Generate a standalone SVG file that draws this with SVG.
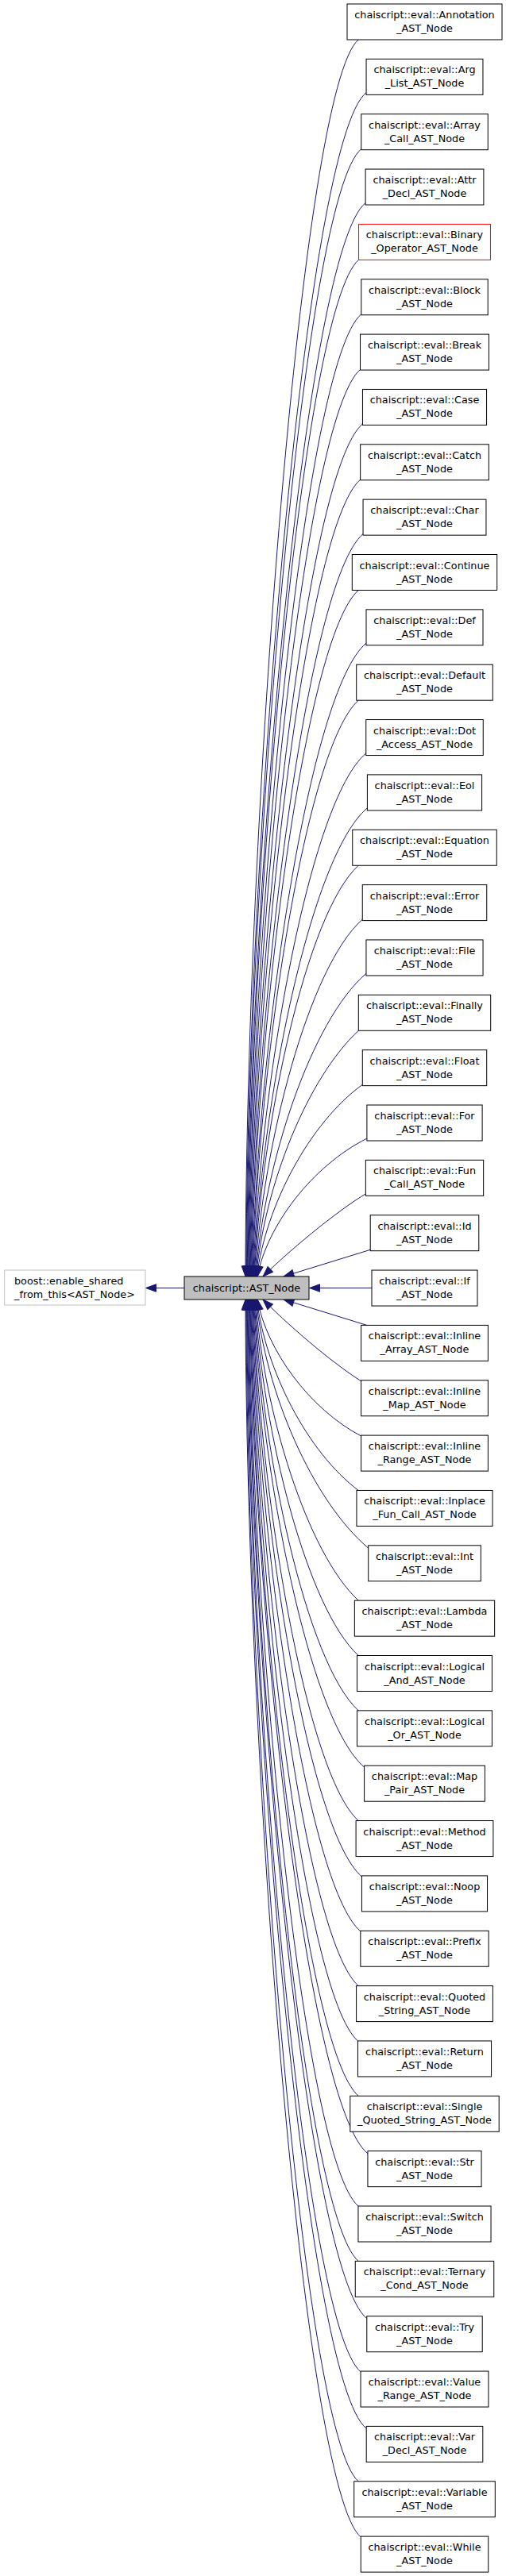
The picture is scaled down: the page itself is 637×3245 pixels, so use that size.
<svg xmlns="http://www.w3.org/2000/svg" width="637" height="3245" viewBox="0 0 637 3245">
<style>
.n rect{fill:#fff;stroke:#000;stroke-width:1}
.n text{font-family:"DejaVu Sans",sans-serif;font-size:12.8px;text-anchor:middle;fill:#000}
#edges path{fill:none;stroke:#191970;stroke-width:1;marker-end:url(#ah)}
</style>
<defs>
<marker id="ah" markerUnits="userSpaceOnUse" markerWidth="16" markerHeight="12" viewBox="-1 -1 16 12" refX="13" refY="5" orient="auto"><path d="M0,0.3 L13,5 L0,9.7 z" fill="#191970" stroke="#191970" stroke-width="1"/></marker>
</defs>
<rect width="637" height="3245" fill="#fff"/>
<g id="edges">
<path d="M232,1622.5 L183.5,1622.5"/>
<path d="M468,1622.5 L389.5,1622.5"/>
<path d="M451.2,50 C380.1,110 309.8,1031.5 309,1608"/>
<path d="M461.05,116.7 C385.4,176.7 311.2,1056.2 309.75,1608"/>
<path d="M454.75,187.7 C382.6,247.7 312.5,1082.5 310.5,1608"/>
<path d="M460.1,255.6 C385.7,315.6 313.9,1107.6 311.25,1608"/>
<path d="M451.55,327.3 C381.8,387.3 315.1,1134.1 312,1608"/>
<path d="M454.8,395.8 C383.8,455.8 316.5,1159.5 312.75,1608"/>
<path d="M453.55,465.5 C383.5,525.5 317.8,1185.3 313.5,1608"/>
<path d="M456.45,534 C385.35,594 319.2,1210.6 314.25,1608"/>
<path d="M453.65,604.1 C384.3,664.1 320.4,1236.6 315,1608"/>
<path d="M457.05,672.6 C386.4,732.6 321.9,1261.9 315.75,1608"/>
<path d="M451.2,743.5 C383.85,803.5 322.9,1288.1 316.5,1608"/>
<path d="M461,810.2 C389.1,870.2 324.7,1312.8 317.25,1608"/>
<path d="M451.2,882.2 C384.6,942.2 325.5,1339.5 318,1608"/>
<path d="M460.75,949 C389.75,1009 327.3,1364.2 318.75,1608"/>
<path d="M462.4,1017.9 C390.95,1077.9 328.7,1389.7 319.5,1608"/>
<path d="M451.2,1090.25 C385.7,1150.25 329.2,1416.4 320.25,1608"/>
<path d="M456.25,1158.2 C388.6,1218.2 330.8,1441.6 321,1608"/>
<path d="M460.95,1226.3 C391.35,1286.3 332.5,1466.8 321.75,1608"/>
<path d="M451.3,1298.3 C386.9,1358.3 333,1493.4 322.5,1608"/>
<path d="M456.3,1366.3 C389.8,1414.6 334.6,1518.6 323.25,1608"/>
<path d="M461.9,1434.1 C392.95,1468.9 336.3,1543.7 324,1608"/>
<path d="M460.35,1503.9 C430.6,1521.6 375,1565.3 331,1608"/>
<path d="M466.2,1574.3 L357,1608"/>
<path d="M461.7,1669.4 L357,1637"/>
<path d="M454.6,1739.7 C426.2,1722.2 373,1679.1 331,1637"/>
<path d="M454.6,1809 C389.3,1774.6 335.7,1700.6 324,1637"/>
<path d="M451.2,1877.45 C387.2,1829.4 334.2,1726 323.25,1637"/>
<path d="M463.7,1950.2 C393.1,1890.2 333.9,1752.9 322.5,1637"/>
<path d="M451.2,2016.15 C386.5,1956.15 331.7,1777.3 321.75,1637"/>
<path d="M451.2,2085.5 C386.1,2025.5 330.5,1802.9 321,1637"/>
<path d="M451.2,2154.85 C385.7,2094.85 329.2,1828.6 320.25,1637"/>
<path d="M458.6,2226.2 C389.05,2166.2 328.4,1855 319.5,1637"/>
<path d="M451.2,2293.55 C385,2233.55 326.7,1879.9 318.75,1637"/>
<path d="M455.45,2364.1 C386.7,2304.1 325.7,1906 318,1637"/>
<path d="M453.85,2433 C385.55,2373 324.3,1931.5 317.25,1637"/>
<path d="M451.2,2501.6 C383.85,2441.6 322.9,1956.9 316.5,1637"/>
<path d="M450.45,2570.95 C383.1,2510.95 321.6,1982.6 315.75,1637"/>
<path d="M451.2,2640.3 C383.1,2580.3 320.3,2008.2 315,1637"/>
<path d="M462.95,2712.8 C388.6,2652.8 319.4,2035 314.25,1637"/>
<path d="M450.95,2779 C382.2,2719 317.7,2059.5 313.5,1637"/>
<path d="M451.2,2848.35 C382,2788.35 316.4,2085.2 312.75,1637"/>
<path d="M461.8,2920.6 C386.9,2860.6 315.3,2111.9 312,1637"/>
<path d="M454.05,2987.8 C382.65,2927.8 313.8,2136.8 311.25,1637"/>
<path d="M461.2,3059.1 C385.85,2999.1 312.6,2163.2 310.5,1637"/>
<path d="M451.2,3125.75 C380.5,3065.75 311.1,2187.8 309.75,1637"/>
<path d="M454.25,3195.9 C381.6,3135.9 309.8,2213.8 309,1637"/>
</g>
<g id="enable_shared" class="n"><rect x="5.7" y="1600" width="177.3" height="44" style="stroke:#bfbfbf"/><text x="18" y="1617.5" style="text-anchor:start">boost::enable_shared<tspan x="18" dy="17">_from_this&lt;AST_Node&gt;</tspan></text></g>
<g id="AST_Node" class="n"><rect x="232" y="1608" width="157" height="29" style="fill:#bfbfbf"/><text x="310.5" y="1627">chaiscript::AST_Node</text></g>
<g id="n0" class="n"><rect x="437" y="5" width="195" height="45"/><text x="534.5" y="23">chaiscript::eval::Annotation<tspan x="534.5" dy="17">_AST_Node</tspan></text></g>
<g id="n1" class="n"><rect x="461.05" y="74.35" width="146.9" height="45"/><text x="534.5" y="92.35">chaiscript::eval::Arg<tspan x="534.5" dy="17">_List_AST_Node</tspan></text></g>
<g id="n2" class="n"><rect x="454.75" y="143.7" width="159.5" height="45"/><text x="534.5" y="161.7">chaiscript::eval::Array<tspan x="534.5" dy="17">_Call_AST_Node</tspan></text></g>
<g id="n3" class="n"><rect x="460.1" y="213.05" width="148.8" height="45"/><text x="534.5" y="231.05">chaiscript::eval::Attr<tspan x="534.5" dy="17">_Decl_AST_Node</tspan></text></g>
<g id="n4" class="n"><rect x="451.55" y="282.4" width="165.9" height="45" style="stroke:#ff0000"/><text x="534.5" y="300.4">chaiscript::eval::Binary<tspan x="534.5" dy="17">_Operator_AST_Node</tspan></text></g>
<g id="n5" class="n"><rect x="454.8" y="351.75" width="159.4" height="45"/><text x="534.5" y="369.75">chaiscript::eval::Block<tspan x="534.5" dy="17">_AST_Node</tspan></text></g>
<g id="n6" class="n"><rect x="453.55" y="421.1" width="161.9" height="45"/><text x="534.5" y="439.1">chaiscript::eval::Break<tspan x="534.5" dy="17">_AST_Node</tspan></text></g>
<g id="n7" class="n"><rect x="456.45" y="490.45" width="156.1" height="45"/><text x="534.5" y="508.45">chaiscript::eval::Case<tspan x="534.5" dy="17">_AST_Node</tspan></text></g>
<g id="n8" class="n"><rect x="453.65" y="559.8" width="161.7" height="45"/><text x="534.5" y="577.8">chaiscript::eval::Catch<tspan x="534.5" dy="17">_AST_Node</tspan></text></g>
<g id="n9" class="n"><rect x="457.05" y="629.15" width="154.9" height="45"/><text x="534.5" y="647.15">chaiscript::eval::Char<tspan x="534.5" dy="17">_AST_Node</tspan></text></g>
<g id="n10" class="n"><rect x="443.3" y="698.5" width="182.4" height="45"/><text x="534.5" y="716.5">chaiscript::eval::Continue<tspan x="534.5" dy="17">_AST_Node</tspan></text></g>
<g id="n11" class="n"><rect x="461" y="767.85" width="147" height="45"/><text x="534.5" y="785.85">chaiscript::eval::Def<tspan x="534.5" dy="17">_AST_Node</tspan></text></g>
<g id="n12" class="n"><rect x="448.7" y="837.2" width="171.6" height="45"/><text x="534.5" y="855.2">chaiscript::eval::Default<tspan x="534.5" dy="17">_AST_Node</tspan></text></g>
<g id="n13" class="n"><rect x="460.75" y="906.55" width="147.5" height="45"/><text x="534.5" y="924.55">chaiscript::eval::Dot<tspan x="534.5" dy="17">_Access_AST_Node</tspan></text></g>
<g id="n14" class="n"><rect x="462.4" y="975.9" width="144.2" height="45"/><text x="534.5" y="993.9">chaiscript::eval::Eol<tspan x="534.5" dy="17">_AST_Node</tspan></text></g>
<g id="n15" class="n"><rect x="443.75" y="1045.25" width="181.5" height="45"/><text x="534.5" y="1063.25">chaiscript::eval::Equation<tspan x="534.5" dy="17">_AST_Node</tspan></text></g>
<g id="n16" class="n"><rect x="456.25" y="1114.6" width="156.5" height="45"/><text x="534.5" y="1132.6">chaiscript::eval::Error<tspan x="534.5" dy="17">_AST_Node</tspan></text></g>
<g id="n17" class="n"><rect x="460.95" y="1183.95" width="147.1" height="45"/><text x="534.5" y="1201.95">chaiscript::eval::File<tspan x="534.5" dy="17">_AST_Node</tspan></text></g>
<g id="n18" class="n"><rect x="451.3" y="1253.3" width="166.4" height="45"/><text x="534.5" y="1271.3">chaiscript::eval::Finally<tspan x="534.5" dy="17">_AST_Node</tspan></text></g>
<g id="n19" class="n"><rect x="456.3" y="1322.65" width="156.4" height="45"/><text x="534.5" y="1340.65">chaiscript::eval::Float<tspan x="534.5" dy="17">_AST_Node</tspan></text></g>
<g id="n20" class="n"><rect x="461.9" y="1392" width="145.2" height="45"/><text x="534.5" y="1410">chaiscript::eval::For<tspan x="534.5" dy="17">_AST_Node</tspan></text></g>
<g id="n21" class="n"><rect x="460.35" y="1461.35" width="148.3" height="45"/><text x="534.5" y="1479.35">chaiscript::eval::Fun<tspan x="534.5" dy="17">_Call_AST_Node</tspan></text></g>
<g id="n22" class="n"><rect x="466.2" y="1530.7" width="136.6" height="45"/><text x="534.5" y="1548.7">chaiscript::eval::Id<tspan x="534.5" dy="17">_AST_Node</tspan></text></g>
<g id="n23" class="n"><rect x="468" y="1600.05" width="133" height="45"/><text x="534.5" y="1618.05">chaiscript::eval::If<tspan x="534.5" dy="17">_AST_Node</tspan></text></g>
<g id="n24" class="n"><rect x="454.6" y="1669.4" width="159.8" height="45"/><text x="534.5" y="1687.4">chaiscript::eval::Inline<tspan x="534.5" dy="17">_Array_AST_Node</tspan></text></g>
<g id="n25" class="n"><rect x="454.6" y="1738.75" width="159.8" height="45"/><text x="534.5" y="1756.75">chaiscript::eval::Inline<tspan x="534.5" dy="17">_Map_AST_Node</tspan></text></g>
<g id="n26" class="n"><rect x="454.6" y="1808.1" width="159.8" height="45"/><text x="534.5" y="1826.1">chaiscript::eval::Inline<tspan x="534.5" dy="17">_Range_AST_Node</tspan></text></g>
<g id="n27" class="n"><rect x="448.95" y="1877.45" width="171.1" height="45"/><text x="534.5" y="1895.45">chaiscript::eval::Inplace<tspan x="534.5" dy="17">_Fun_Call_AST_Node</tspan></text></g>
<g id="n28" class="n"><rect x="463.7" y="1946.8" width="141.6" height="45"/><text x="534.5" y="1964.8">chaiscript::eval::Int<tspan x="534.5" dy="17">_AST_Node</tspan></text></g>
<g id="n29" class="n"><rect x="446.35" y="2016.15" width="176.3" height="45"/><text x="534.5" y="2034.15">chaiscript::eval::Lambda<tspan x="534.5" dy="17">_AST_Node</tspan></text></g>
<g id="n30" class="n"><rect x="449.55" y="2085.5" width="169.9" height="45"/><text x="534.5" y="2103.5">chaiscript::eval::Logical<tspan x="534.5" dy="17">_And_AST_Node</tspan></text></g>
<g id="n31" class="n"><rect x="449.55" y="2154.85" width="169.9" height="45"/><text x="534.5" y="2172.85">chaiscript::eval::Logical<tspan x="534.5" dy="17">_Or_AST_Node</tspan></text></g>
<g id="n32" class="n"><rect x="458.6" y="2224.2" width="151.8" height="45"/><text x="534.5" y="2242.2">chaiscript::eval::Map<tspan x="534.5" dy="17">_Pair_AST_Node</tspan></text></g>
<g id="n33" class="n"><rect x="448.1" y="2293.55" width="172.8" height="45"/><text x="534.5" y="2311.55">chaiscript::eval::Method<tspan x="534.5" dy="17">_AST_Node</tspan></text></g>
<g id="n34" class="n"><rect x="455.45" y="2362.9" width="158.1" height="45"/><text x="534.5" y="2380.9">chaiscript::eval::Noop<tspan x="534.5" dy="17">_AST_Node</tspan></text></g>
<g id="n35" class="n"><rect x="453.85" y="2432.25" width="161.3" height="45"/><text x="534.5" y="2450.25">chaiscript::eval::Prefix<tspan x="534.5" dy="17">_AST_Node</tspan></text></g>
<g id="n36" class="n"><rect x="448.6" y="2501.6" width="171.8" height="45"/><text x="534.5" y="2519.6">chaiscript::eval::Quoted<tspan x="534.5" dy="17">_String_AST_Node</tspan></text></g>
<g id="n37" class="n"><rect x="450.45" y="2570.95" width="168.1" height="45"/><text x="534.5" y="2588.95">chaiscript::eval::Return<tspan x="534.5" dy="17">_AST_Node</tspan></text></g>
<g id="n38" class="n"><rect x="440.8" y="2640.3" width="187.4" height="45"/><text x="534.5" y="2658.3">chaiscript::eval::Single<tspan x="534.5" dy="17">_Quoted_String_AST_Node</tspan></text></g>
<g id="n39" class="n"><rect x="462.95" y="2709.65" width="143.1" height="45"/><text x="534.5" y="2727.65">chaiscript::eval::Str<tspan x="534.5" dy="17">_AST_Node</tspan></text></g>
<g id="n40" class="n"><rect x="450.95" y="2779" width="167.1" height="45"/><text x="534.5" y="2797">chaiscript::eval::Switch<tspan x="534.5" dy="17">_AST_Node</tspan></text></g>
<g id="n41" class="n"><rect x="447.25" y="2848.35" width="174.5" height="45"/><text x="534.5" y="2866.35">chaiscript::eval::Ternary<tspan x="534.5" dy="17">_Cond_AST_Node</tspan></text></g>
<g id="n42" class="n"><rect x="461.8" y="2917.7" width="145.4" height="45"/><text x="534.5" y="2935.7">chaiscript::eval::Try<tspan x="534.5" dy="17">_AST_Node</tspan></text></g>
<g id="n43" class="n"><rect x="454.05" y="2987.05" width="160.9" height="45"/><text x="534.5" y="3005.05">chaiscript::eval::Value<tspan x="534.5" dy="17">_Range_AST_Node</tspan></text></g>
<g id="n44" class="n"><rect x="461.2" y="3056.4" width="146.6" height="45"/><text x="534.5" y="3074.4">chaiscript::eval::Var<tspan x="534.5" dy="17">_Decl_AST_Node</tspan></text></g>
<g id="n45" class="n"><rect x="445.7" y="3125.75" width="177.6" height="45"/><text x="534.5" y="3143.75">chaiscript::eval::Variable<tspan x="534.5" dy="17">_AST_Node</tspan></text></g>
<g id="n46" class="n"><rect x="454.25" y="3195.1" width="160.5" height="45"/><text x="534.5" y="3213.1">chaiscript::eval::While<tspan x="534.5" dy="17">_AST_Node</tspan></text></g>
</svg>
